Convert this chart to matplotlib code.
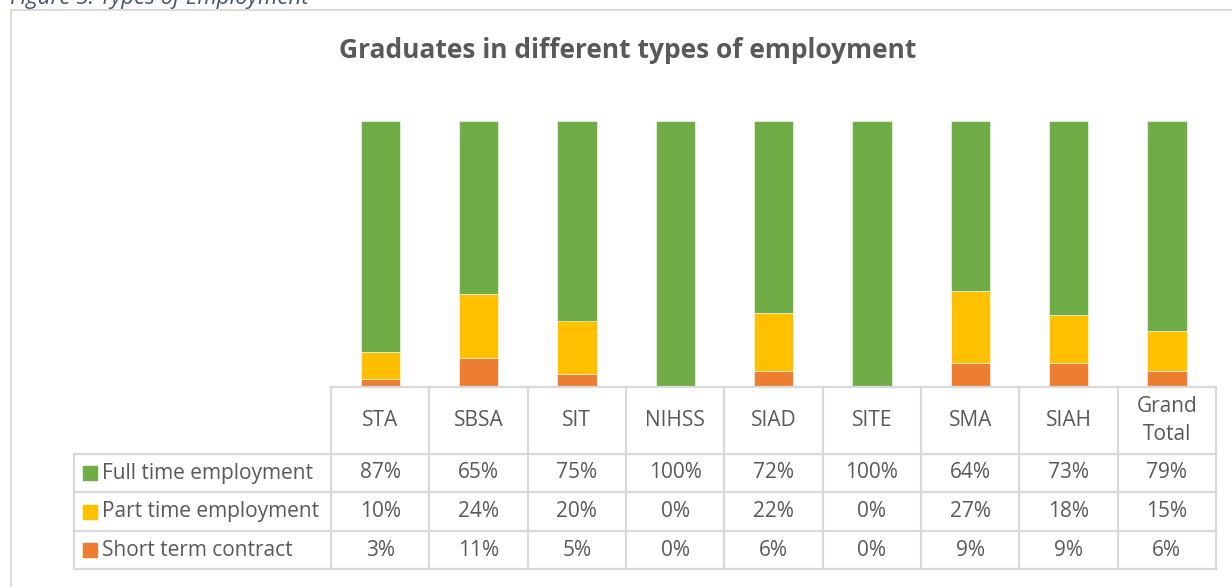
import matplotlib
matplotlib.use('Agg')
import matplotlib.pyplot as plt
from matplotlib.lines import Line2D
from matplotlib.patches import Rectangle

plt.rcParams['font.family'] = ['Open Sans', 'DejaVu Sans']

categories = ['STA', 'SBSA', 'SIT', 'NIHSS', 'SIAD', 'SITE', 'SMA', 'SIAH', 'Grand\nTotal']
full_time = [87, 65, 75, 100, 72, 100, 64, 73, 79]
part_time = [10, 24, 20, 0, 22, 0, 27, 18, 15]
short_term = [3, 11, 5, 0, 6, 0, 9, 9, 6]
series_names = ['Full time employment', 'Part time employment', 'Short term contract']
colors = ['#70AD47', '#FFC000', '#ED7D31']

W, H = 1232, 587
TXT = '#595959'
GRID = '#D9D9D9'


def fx(x):
    return x / W


def fy(y):
    return 1 - y / H


fig = plt.figure(figsize=(W / 100, H / 100), dpi=100)

# chart area border (cut off at right and bottom)
fig.add_artist(Line2D([fx(11), fx(11)], [fy(10), fy(H + 5)], color=GRID, lw=1.3))
fig.add_artist(Line2D([fx(11), fx(W + 5)], [fy(10), fy(10)], color=GRID, lw=1.3))

# caption above the chart, partly cut off like in the source document
fig.text(fx(10), fy(4), 'Figure 5: Types of Employment', fontsize=16, style='italic',
         color='#44546A', va='baseline', ha='left')

fig.text(fx(628), fy(50), 'Graduates in different types of employment', fontsize=19,
         fontweight='bold', color=TXT, ha='center', va='center')

# plot area
x0, x1 = 331, 1216
ytop, ybot = 121, 387
ax = fig.add_axes([fx(x0), fy(ybot), fx(x1 - x0), (ybot - ytop) / H])
n = len(categories)
pos = list(range(n))
bw = 0.4
ax.bar(pos, short_term, bw, color=colors[2], edgecolor='white', linewidth=0.4)
ax.bar(pos, part_time, bw, bottom=short_term, color=colors[1], edgecolor='white', linewidth=0.4)
bottoms = [a + b for a, b in zip(short_term, part_time)]
ax.bar(pos, full_time, bw, bottom=bottoms, color=colors[0], edgecolor='white', linewidth=0.4)
ax.set_xlim(-0.5, n - 0.5)
ax.set_ylim(0, 100)
ax.axis('off')

# data table
colw = (x1 - x0) / n
rows_y = [387, 454, 492, 531, 569]
tleft = 74
lw = 1.6
fig.add_artist(Line2D([fx(x0), fx(x1)], [fy(rows_y[0]), fy(rows_y[0])], color=GRID, lw=lw))
for yy in rows_y[1:]:
    fig.add_artist(Line2D([fx(tleft), fx(x1)], [fy(yy), fy(yy)], color=GRID, lw=lw))
fig.add_artist(Line2D([fx(tleft), fx(tleft)], [fy(rows_y[1]), fy(rows_y[4])], color=GRID, lw=lw))
for i in range(n + 1):
    xx = x0 + i * colw
    fig.add_artist(Line2D([fx(xx), fx(xx)], [fy(rows_y[0]), fy(rows_y[4])], color=GRID, lw=lw))

fs = 15
for i, c in enumerate(categories):
    cx = x0 + (i + 0.5) * colw
    fig.text(fx(cx), fy((rows_y[0] + rows_y[1]) / 2), c, fontsize=fs, color=TXT,
             ha='center', va='center', linespacing=1.4)

values = [full_time, part_time, short_term]
for r, (name, vals, col) in enumerate(zip(series_names, values, colors)):
    cy = (rows_y[r + 1] + rows_y[r + 2]) / 2
    fig.add_artist(Rectangle((fx(83), fy(cy + 7)), fx(14), 14 / H, color=col,
                             transform=fig.transFigure))
    fig.text(fx(102), fy(cy), name, fontsize=fs, color=TXT, ha='left', va='center')
    for i, v in enumerate(vals):
        cx = x0 + (i + 0.5) * colw
        fig.text(fx(cx), fy(cy), f'{v}%', fontsize=fs, color=TXT, ha='center', va='center')

fig.savefig('out.png', dpi=100)
